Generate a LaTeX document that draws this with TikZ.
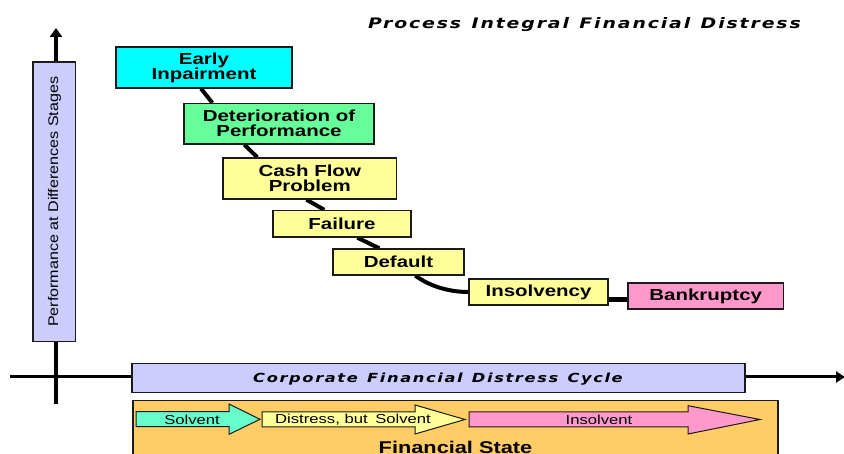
\documentclass[tikz,border=0pt]{standalone}
\usepackage{fontspec}
\setmainfont{Liberation Sans}
\newfontfamily\wfont{Liberation Sans}[FakeStretch=1.28]
\newfontfamily\vfont{Liberation Sans}[FakeStretch=1.15]
\newfontfamily\tfont{DejaVu Sans}[FakeStretch=1.3,LetterSpace=13]
\usetikzlibrary{arrows.meta,calc,backgrounds}
\definecolor{lav}{HTML}{CCCCFF}
\definecolor{cyanb}{HTML}{00FFFF}
\definecolor{greenb}{HTML}{66FF99}
\definecolor{yellowb}{HTML}{FFFF99}
\definecolor{pinkb}{HTML}{FF99CC}
\definecolor{orangeb}{HTML}{FFCC66}
\definecolor{aquab}{HTML}{66FFCC}
\definecolor{edge}{HTML}{1A1A1A}
\begin{document}
\begin{tikzpicture}[x=1pt,y=-1pt,
  stage/.style={draw=edge, line width=1.3pt, inner sep=0pt, align=center,
    font=\wfont\bfseries\fontsize{16}{15}\selectfont},
  conn/.style={line width=4pt, draw=black},
  axis/.style={line width=3.5pt, draw=black},
  band/.style={draw=edge, line width=1.3pt, inner sep=0pt},
  statearrow/.style={draw=edge, line width=1pt},
  alabel/.style={font=\wfont\fontsize{13}{13}\selectfont, inner sep=0pt},
  spaced/.style={inner sep=0pt}
]
\useasboundingbox (0,0) rectangle (844,454);

% title
\node[spaced, anchor=base east, font=\tfont\bfseries\itshape\fontsize{14.5}{15}\selectfont] (title) at (801,28.3) {Process\hspace{2pt} Integral\hspace{2pt} Financial\hspace{2pt} Distress};

% axes
\coordinate (ybot) at (56,404);
\coordinate (ytop) at (56,28);
\coordinate (xleft) at (10,377);
\coordinate (xright) at (845,377);
\draw[axis, -{Triangle[width=12pt,length=9pt]}] (ybot) -- (ytop);
\draw[axis, line width=3pt, -{Triangle[width=11pt,length=9pt]}] (xleft) -- (xright);

% vertical label
\node[band, fill=lav, rotate=90, minimum width=279.7pt, minimum height=42.7pt,
  font=\vfont\fontsize{14}{14}\selectfont] (ylab) at (54.4,201.8) {Performance at Differences Stages};

% horizontal cycle band
\node[band, fill=lav, minimum width=613pt, minimum height=29pt] (cycle) at (438.5,378.2) {};
\node[spaced, anchor=base, font=\tfont\bfseries\itshape\fontsize{12.5}{13}\selectfont] (cyclet) at (438,383) {Corporate\hspace{2pt} Financial\hspace{2pt} Distress\hspace{2pt} Cycle};

% financial state box
\node[band, fill=orangeb, minimum width=645pt, minimum height=70pt] (state) at (455.5,435.3) {};
\node[font=\wfont\bfseries\fontsize{17}{17}\selectfont, anchor=base, inner sep=0pt] (statet) at (455.5,453.8) {Financial State};

% state arrows
\draw[statearrow, fill=aquab] (136,411.7) -- (229,411.7) -- (229,404) -- (260,419.3) -- (229,434.3) -- (229,426.7) -- (136,426.7) -- cycle;
\node[alabel] (solv) at (192,419.5) {Solvent};
\draw[statearrow, fill=yellowb] (262,412) -- (415,412) -- (415,405) -- (465,419.5) -- (415,434) -- (415,427) -- (262,427) -- cycle;
\node[alabel] (dist) at (353,419.5) {Distress, but\hspace{3pt} Solvent};
\draw[statearrow, fill=pinkb] (469,412) -- (688,412) -- (688,405.7) -- (760,419.5) -- (688,434) -- (688,427) -- (469,427) -- cycle;
\node[alabel] (insolv) at (599,419.5) {Insolvent};

% stages
\node[stage, fill=cyanb, minimum width=176pt, minimum height=41pt] (early) at (204,67.5) {Early\\Inpairment};
\node[stage, fill=greenb, minimum width=190pt, minimum height=40.5pt] (det) at (279,123.75) {Deterioration of\\Performance};
\node[stage, fill=yellowb, minimum width=173.5pt, minimum height=41pt] (cash) at (309.75,178.5) {Cash Flow\\Problem};
\node[stage, fill=yellowb, minimum width=138pt, minimum height=26.5pt] (fail) at (342,223.75) {Failure};
\node[stage, fill=yellowb, minimum width=131pt, minimum height=26pt] (default) at (398.5,262) {Default};
\node[stage, fill=yellowb, minimum width=139pt, minimum height=26pt] (ins) at (538.5,292) {Insolvency};
\node[stage, fill=pinkb, minimum width=155.5pt, minimum height=26pt] (bank) at (705.75,296) {Bankruptcy};

% connectors
\begin{pgfonlayer}{background}
\draw[conn] ($(early.south west)+(85.7,0)$) -- ($(det.north west)+(29,0)$);
\draw[conn] ($(det.south west)+(61,0)$) -- ($(cash.north west)+(35,0)$);
\draw[conn] ($(cash.south west)+(84,0)$) -- ($(fail.north west)+(52,0)$);
\draw[conn] ($(fail.south west)+(85,0)$) -- ($(default.north west)+(47,0)$);
\draw[conn] ($(default.south west)+(83,0)$) .. controls +(12,9) and +(-22,0) .. (ins.west);
\draw[conn, line width=5pt] ($(ins.south east)+(0,-6)$) -- ($(bank.south west)+(0,-10)$);
\end{pgfonlayer}
\end{tikzpicture}
\end{document}
